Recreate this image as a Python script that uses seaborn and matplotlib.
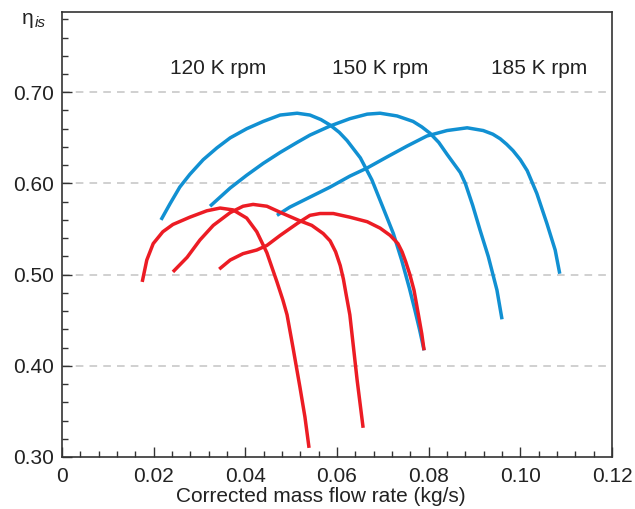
import numpy as np
import pandas as pd
import matplotlib
matplotlib.use("Agg")
import matplotlib.pyplot as plt
from matplotlib.ticker import MultipleLocator, FuncFormatter
import seaborn as sns

# speed lines (blue) - corrected mass flow (kg/s) vs isentropic efficiency
blue_120_x = [0.0216, 0.0236, 0.0257, 0.0279, 0.0308, 0.0338, 0.0367, 0.0403, 0.0439, 0.0476, 0.0513,
              0.0541, 0.0565, 0.0585, 0.0605, 0.0622, 0.0651, 0.0676, 0.0700, 0.0723, 0.0741, 0.0758,
              0.0770, 0.0780, 0.0790]
blue_120_y = [0.560, 0.578, 0.596, 0.610, 0.626, 0.639, 0.650, 0.660, 0.668, 0.675, 0.677,
              0.675, 0.670, 0.664, 0.656, 0.647, 0.628, 0.604, 0.574, 0.545, 0.516, 0.485,
              0.461, 0.440, 0.417]

blue_150_x = [0.0323, 0.0367, 0.0403, 0.0439, 0.0476, 0.0513, 0.0541, 0.0585, 0.0628, 0.0666, 0.0694,
              0.0731, 0.0766, 0.0785, 0.0803, 0.0822, 0.0840, 0.0869, 0.0880, 0.0896, 0.0912, 0.0930,
              0.0949, 0.0960]
blue_150_y = [0.575, 0.595, 0.609, 0.622, 0.634, 0.645, 0.653, 0.663, 0.671, 0.676, 0.677,
              0.674, 0.668, 0.662, 0.655, 0.645, 0.632, 0.612, 0.600, 0.576, 0.549, 0.520,
              0.483, 0.451]

blue_185_x = [0.0469, 0.0497, 0.0541, 0.0585, 0.0628, 0.0666, 0.0709, 0.0753, 0.0796, 0.0840, 0.0884,
              0.0919, 0.0940, 0.0956, 0.0970, 0.0984, 0.1000, 0.1015, 0.1036, 0.1058, 0.1076, 0.1086]
blue_185_y = [0.565, 0.574, 0.585, 0.596, 0.608, 0.617, 0.629, 0.641, 0.652, 0.658, 0.661,
              0.658, 0.654, 0.649, 0.643, 0.636, 0.626, 0.614, 0.589, 0.556, 0.527, 0.501]

# red lines
red_120_x = [0.0175, 0.0185, 0.0199, 0.0220, 0.0242, 0.0279, 0.0316, 0.0345, 0.0373, 0.0403, 0.0425,
             0.0447, 0.0469, 0.0482, 0.0491, 0.0504, 0.0519, 0.0530, 0.0539]
red_120_y = [0.492, 0.516, 0.534, 0.547, 0.555, 0.563, 0.570, 0.573, 0.571, 0.562, 0.547,
             0.524, 0.492, 0.472, 0.456, 0.420, 0.377, 0.344, 0.310]

red_150_x = [0.0242, 0.0273, 0.0301, 0.0330, 0.0367, 0.0395, 0.0417, 0.0447, 0.0482, 0.0519, 0.0545,
             0.0570, 0.0585, 0.0597, 0.0607, 0.0614, 0.0620, 0.0628, 0.0636, 0.0644, 0.0650, 0.0657]
red_150_y = [0.503, 0.519, 0.538, 0.554, 0.568, 0.575, 0.577, 0.575, 0.567, 0.559, 0.554,
             0.545, 0.537, 0.525, 0.510, 0.495, 0.478, 0.456, 0.420, 0.384, 0.360, 0.332]

red_185_x = [0.0343, 0.0367, 0.0395, 0.0425, 0.0447, 0.0476, 0.0513, 0.0541, 0.0563, 0.0592, 0.0628,
             0.0666, 0.0694, 0.0716, 0.0733, 0.0742, 0.0750, 0.0759, 0.0768, 0.0778, 0.0785, 0.0790]
red_185_y = [0.506, 0.516, 0.523, 0.527, 0.532, 0.543, 0.556, 0.565, 0.567, 0.567, 0.563,
             0.558, 0.551, 0.543, 0.534, 0.525, 0.514, 0.500, 0.483, 0.455, 0.435, 0.417]

speed_labels = ["120 K rpm", "150 K rpm", "185 K rpm"]
speed_label_x = [0.0340, 0.0694, 0.1040]

BLUE = "#1190d2"
RED = "#ec1c24"

curves = []
for name, xs, ys in [("b120", blue_120_x, blue_120_y), ("b150", blue_150_x, blue_150_y),
                     ("b185", blue_185_x, blue_185_y), ("r120", red_120_x, red_120_y),
                     ("r150", red_150_x, red_150_y), ("r185", red_185_x, red_185_y)]:
    curves.append(pd.DataFrame({"x": xs, "y": ys, "curve": name}))
df = pd.concat(curves, ignore_index=True)

sns.set_style("ticks")
plt.rcParams['font.family'] = ['Liberation Sans', 'DejaVu Sans']

fig = plt.figure(figsize=(6.35, 5.09), dpi=100)
ax = fig.add_axes([62/635, 1 - 457/509, 550/635, 445/509])

palette = {"b120": BLUE, "b150": BLUE, "b185": BLUE, "r120": RED, "r150": RED, "r185": RED}
sns.lineplot(data=df, x="x", y="y", hue="curve", palette=palette, sort=False,
             estimator=None, linewidth=2.5, legend=False, ax=ax)
for ln in ax.get_lines():
    ln.set_solid_joinstyle("round")
    ln.set_solid_capstyle("butt")

# dashed grid lines
for g in [0.4, 0.5, 0.6, 0.7]:
    ax.axhline(g, color="#c4c4c4", linestyle=(0, (5, 4)), linewidth=1.1, zorder=0)

for lab, lx in zip(speed_labels, speed_label_x):
    ax.text(lx, 0.726, lab, ha="center", va="center", fontsize=15, color="#222222")

ax.set_xlim(0, 0.12)
ax.set_ylim(0.30, 0.788)
ax.xaxis.set_major_locator(MultipleLocator(0.02))
ax.xaxis.set_minor_locator(MultipleLocator(0.004))
ax.yaxis.set_major_locator(MultipleLocator(0.1))
ax.yaxis.set_minor_locator(MultipleLocator(0.02))
ax.xaxis.set_major_formatter(FuncFormatter(lambda v, p: "0" if abs(v) < 1e-9 else f"{v:.2f}"))
ax.yaxis.set_major_formatter(FuncFormatter(lambda v, p: f"{v:.2f}" if v < 0.75 else ""))

ax.tick_params(axis="both", which="major", direction="in", length=7, width=1, labelsize=15,
               color="#333333", labelcolor="#222222")
ax.tick_params(axis="x", which="major", pad=7)
ax.tick_params(axis="y", which="major", pad=6)
ax.tick_params(axis="both", which="minor", direction="in", length=4, width=1, color="#333333")
for s in ax.spines.values():
    s.set_color("#333333")
    s.set_linewidth(1.2)

ax.set_xlabel("Corrected mass flow rate (kg/s)", fontsize=15, color="#222222")
ax.xaxis.set_label_coords(0.47, -0.088)
ax.xaxis.label.set_va("center")
ax.set_ylabel("")
fig.text(22/635, 1 - 19/509, "η", fontsize=15, ha="left", va="center", color="#222222")
fig.text(35/635, 1 - 23/509, "is", fontsize=11, style="italic", ha="left", va="center", color="#222222")

fig.savefig("out.png", dpi=100)
